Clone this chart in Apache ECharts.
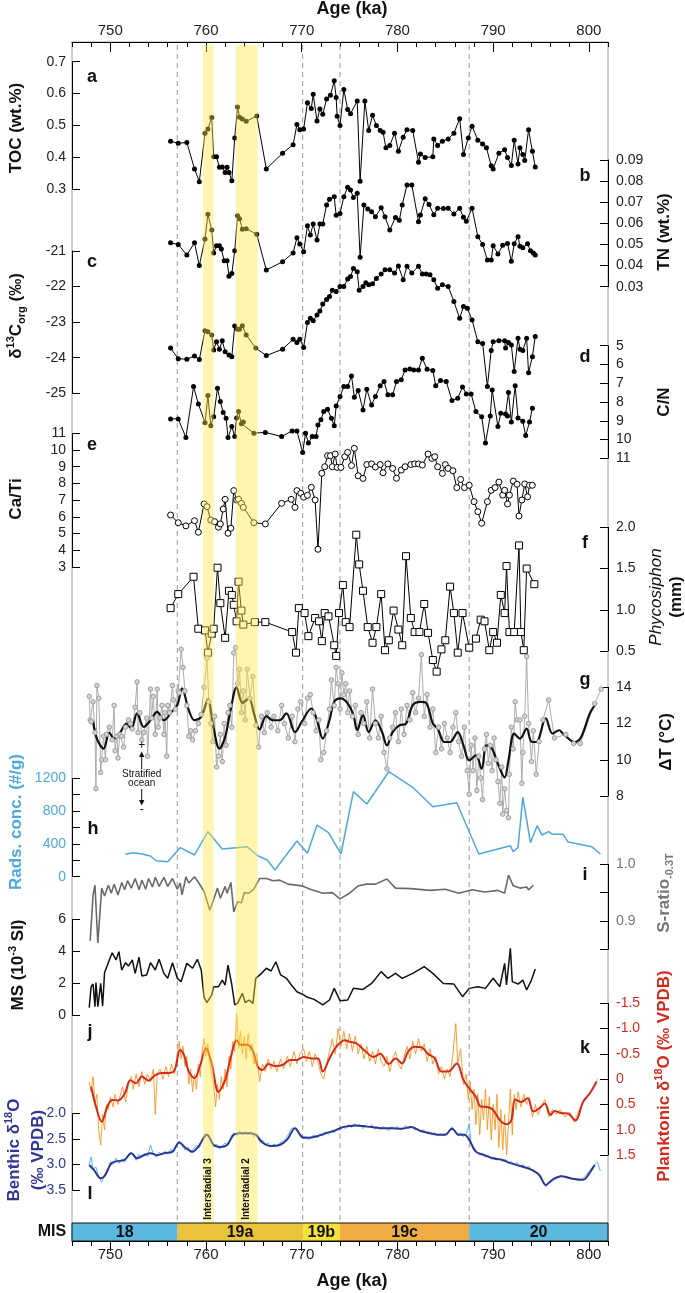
<!DOCTYPE html>
<html><head><meta charset="utf-8">
<script src="https://cdn.jsdelivr.net/npm/echarts@6/dist/echarts.min.js"></script>
<style>html,body{margin:0;padding:0;background:#fff}#c{width:685px;height:1293px}</style>
</head><body><div id="c"></div><script>
// ---------------- DATA ----------------
const ageMajorTicks = [750,760,770,780,790,800];
const ageMinorTicks = [746,748,750,752,754,756,758,760,762,764,766,768,770,772,774,776,778,780,782,784,786,788,790,792,794,796,798,800,802];
const misStages = ['18','19a','19b','19c','20'];
const misBounds = [746,757.0,770.1,774.0,787.5,802];
const dashedAges = [757.0,770.1,774.0,787.5];
const bandRanges = [[759.7,760.8],[763.1,765.4]];
const bandLabels = ['Interstadial 3','Interstadial 2'];

const tocData = [[756.3,0.451],[757.1,0.444],[758.0,0.447],[758.8,0.364],[759.3,0.324],[759.9,0.476],[760.2,0.489],[760.6,0.525],[760.8,0.402],[761.1,0.402],[761.4,0.369],[761.7,0.37],[762.0,0.353],[762.2,0.369],[762.4,0.353],[762.7,0.327],[763.0,0.461],[763.3,0.558],[763.5,0.526],[763.8,0.52],[764.2,0.513],[765.3,0.53],[766.3,0.364],[768.0,0.413],[769.1,0.44],[769.5,0.503],[769.8,0.487],[770.2,0.489],[770.6,0.571],[771.0,0.553],[771.2,0.598],[771.6,0.514],[771.9,0.552],[772.2,0.535],[772.6,0.583],[773.0,0.595],[773.4,0.64],[773.6,0.588],[773.7,0.529],[774.0,0.5],[774.4,0.613],[774.8,0.55],[775.1,0.537],[775.8,0.577],[776.1,0.325],[776.6,0.577],[777.0,0.484],[777.4,0.532],[777.8,0.5],[778.2,0.484],[778.5,0.479],[778.8,0.43],[779.2,0.437],[779.7,0.476],[780.1,0.419],[780.6,0.463],[781.0,0.487],[781.6,0.484],[782.2,0.385],[782.4,0.411],[782.9,0.4],[783.7,0.402],[783.8,0.458],[784.2,0.437],[784.7,0.451],[785.3,0.458],[785.9,0.476],[786.5,0.521],[786.9,0.409],[787.4,0.461],[787.8,0.498],[788.4,0.454],[788.9,0.442],[789.3,0.43],[789.8,0.374],[790.0,0.364],[790.6,0.413],[791.2,0.424],[791.5,0.4],[791.9,0.375],[792.2,0.454],[792.6,0.379],[792.8,0.43],[793.1,0.409],[793.3,0.39],[793.7,0.487],[794.1,0.419],[794.4,0.37]];

const tnData = [[756.3,0.0508],[757.1,0.050],[758.0,0.045],[758.8,0.0508],[759.3,0.040],[759.9,0.0526],[760.2,0.0643],[760.6,0.0568],[760.8,0.046],[761.1,0.0494],[761.4,0.0494],[761.6,0.0478],[761.9,0.0423],[762.2,0.0423],[762.4,0.035],[762.7,0.0363],[763.0,0.047],[763.3,0.0636],[763.5,0.0622],[763.8,0.0572],[764.2,0.0575],[765.3,0.0548],[766.3,0.0379],[768.0,0.0418],[769.1,0.046],[769.5,0.0532],[769.8,0.0502],[770.2,0.0465],[770.6,0.0589],[770.9,0.0545],[771.2,0.0597],[771.6,0.0521],[771.9,0.0597],[772.2,0.0597],[772.6,0.0687],[772.9,0.0714],[773.4,0.0726],[773.6,0.0638],[774.0,0.0647],[774.4,0.0726],[774.8,0.0771],[775.1,0.0758],[775.4,0.0723],[775.8,0.0742],[776.1,0.0439],[776.5,0.0687],[776.9,0.0668],[777.3,0.0655],[777.7,0.0631],[778.3,0.0674],[778.7,0.0631],[779.2,0.0568],[779.8,0.0628],[780.2,0.0615],[780.5,0.0687],[781.0,0.0782],[781.5,0.0782],[782.2,0.0608],[782.4,0.0639],[782.9,0.0716],[783.3,0.0689],[783.8,0.0641],[784.2,0.0672],[784.8,0.067],[785.3,0.0672],[785.9,0.0644],[786.5,0.0672],[786.9,0.0629],[787.2,0.061],[787.8,0.0672],[788.4,0.0537],[788.9,0.050],[789.4,0.0426],[789.8,0.0426],[790.0,0.0494],[790.5,0.0455],[791.0,0.0496],[791.5,0.0505],[791.9,0.042],[792.2,0.0503],[792.6,0.0537],[792.8,0.0491],[793.1,0.0485],[793.6,0.0503],[793.9,0.047],[794.2,0.046],[794.4,0.045]];

const d13cData = [[756.3,-23.73],[757.1,-24.03],[758.0,-24.04],[758.8,-23.95],[759.3,-24.05],[759.9,-23.24],[760.2,-23.27],[760.6,-23.36],[760.8,-23.78],[761.1,-23.55],[761.4,-23.76],[761.7,-23.52],[762.0,-23.83],[762.4,-23.92],[762.7,-23.97],[763.0,-23.11],[763.3,-23.2],[763.5,-23.2],[763.8,-23.1],[764.2,-23.36],[765.2,-23.73],[766.3,-23.94],[768.0,-23.76],[769.1,-23.48],[769.5,-23.57],[769.8,-23.48],[770.2,-23.71],[770.6,-23.01],[770.9,-22.89],[771.2,-22.96],[771.6,-22.8],[771.9,-22.69],[772.2,-22.49],[772.6,-22.36],[772.9,-22.28],[773.2,-22.1],[773.6,-22.14],[774.0,-22.0],[774.4,-22.0],[774.8,-21.79],[775.1,-21.72],[775.4,-21.49],[775.8,-21.58],[776.0,-22.1],[776.4,-22.0],[776.7,-21.89],[777.0,-21.95],[777.4,-21.92],[777.8,-21.77],[778.3,-21.65],[778.7,-21.53],[779.2,-21.53],[779.7,-21.62],[780.1,-21.42],[780.6,-21.81],[781.0,-21.43],[781.5,-21.62],[782.2,-21.43],[782.6,-21.65],[783.0,-21.65],[783.4,-21.67],[783.8,-21.81],[784.2,-22.05],[784.7,-21.95],[785.3,-22.0],[785.9,-22.42],[786.5,-22.89],[786.9,-22.56],[787.3,-22.61],[787.8,-22.94],[788.4,-23.55],[788.9,-23.6],[789.4,-24.81],[789.8,-23.8],[790.0,-23.55],[790.6,-23.52],[791.2,-23.52],[791.3,-23.73],[791.6,-23.57],[791.9,-23.64],[792.2,-24.39],[792.6,-23.45],[792.8,-23.76],[793.1,-23.8],[793.5,-23.45],[793.7,-24.42],[794.1,-23.97],[794.4,-23.4]];

const cnData = [[756.3,8.9],[757.1,8.9],[757.9,9.89],[758.7,7.18],[759.2,8.1],[759.9,9.1],[760.2,7.66],[760.5,9.26],[760.8,8.78],[761.2,7.27],[761.5,7.98],[761.8,8.56],[762.1,8.86],[762.3,9.89],[762.7,9.31],[763.0,9.84],[763.2,8.85],[763.4,8.51],[763.7,9.16],[763.9,9.07],[765.0,9.66],[766.2,9.62],[767.9,9.84],[769.0,9.54],[769.5,9.54],[770.1,10.69],[770.4,9.66],[770.7,10.19],[771.1,9.84],[771.5,9.84],[771.7,9.22],[772.0,8.95],[772.3,8.51],[772.7,8.39],[773.1,8.86],[773.4,9.27],[773.6,8.21],[774.0,7.71],[774.4,7.18],[774.8,7.18],[775.2,6.61],[775.5,7.75],[775.9,7.39],[776.4,8.42],[776.8,7.32],[777.3,8.16],[777.7,7.71],[778.2,7.14],[778.6,6.91],[779.0,7.62],[779.5,7.62],[779.9,6.91],[780.4,6.82],[780.8,6.29],[781.3,6.24],[781.7,6.29],[782.2,6.29],[782.6,5.67],[783.1,6.26],[783.7,6.32],[784.0,7.14],[784.5,6.86],[785.1,6.91],[785.7,7.92],[786.3,7.8],[786.8,7.2],[787.2,7.57],[787.7,7.57],[788.2,8.51],[788.8,8.78],[789.2,10.19],[789.7,8.74],[789.9,7.36],[790.5,9.31],[790.8,8.6],[791.3,8.64],[791.5,8.74],[791.6,7.5],[791.9,9.07],[792.3,7.14],[792.6,8.85],[793.1,9.03],[793.4,9.79],[793.8,9.07],[794.1,8.33]];

const catiData = [[756.3,6.11],[757.1,5.65],[757.9,5.46],[758.8,5.77],[759.2,5.08],[759.8,6.77],[760.1,6.61],[760.5,5.81],[760.9,5.71],[761.3,5.38],[761.5,5.58],[761.8,6.47],[762.0,7.05],[762.3,5.02],[762.6,5.32],[762.9,7.57],[763.2,7.01],[763.4,7.05],[763.7,6.81],[763.9,6.57],[765.0,5.65],[766.2,5.58],[767.9,6.81],[768.9,7.05],[769.3,6.57],[769.5,7.57],[769.9,7.41],[770.2,7.18],[770.6,7.29],[771.0,7.77],[771.4,7.01],[771.7,4.06],[772.1,8.61],[772.4,9.0],[772.7,9.66],[773.0,9.66],[773.2,9.0],[773.5,9.76],[773.7,8.96],[774.1,8.96],[774.5,9.6],[774.8,9.86],[775.2,9.07],[775.5,10.1],[775.9,8.46],[776.4,8.3],[776.8,9.13],[777.3,9.17],[777.7,8.98],[778.2,9.13],[778.5,8.64],[779.0,9.17],[779.5,8.9],[779.9,8.31],[780.4,8.8],[780.8,9.0],[781.4,9.13],[781.8,9.17],[782.2,9.17],[782.6,9.1],[783.2,9.76],[783.6,9.5],[783.9,9.6],[784.2,9.0],[784.7,8.6],[785.0,9.13],[785.3,8.9],[785.8,8.76],[786.2,7.75],[786.6,8.24],[787.0,7.75],[787.5,7.89],[788.0,6.91],[788.4,6.31],[788.8,5.62],[789.4,6.91],[789.8,7.59],[790.2,7.75],[790.6,8.08],[791.0,7.3],[791.2,7.59],[791.5,6.77],[791.7,7.3],[792.1,8.14],[792.5,7.95],[792.7,6.05],[793.0,7.01],[793.3,7.97],[793.6,7.2],[793.8,7.89],[794.1,7.89]];

const phycoData = [[756.3,1.02],[757.1,1.19],[758.7,1.40],[759.2,0.77],[759.9,0.75],[760.2,0.48],[760.6,0.71],[760.8,0.77],[761.2,1.51],[761.5,1.08],[762.0,0.66],[762.4,1.23],[762.7,1.18],[762.9,1.06],[763.2,0.86],[763.4,1.34],[763.7,0.99],[763.9,0.82],[765.1,0.85],[766.2,0.85],[769.0,0.73],[769.4,0.48],[769.7,1.02],[770.3,0.96],[770.7,0.68],[771.4,0.9],[771.8,0.86],[772.1,0.62],[772.4,0.96],[772.8,0.92],[773.4,0.57],[773.6,0.44],[773.9,0.96],[774.3,1.30],[774.6,0.85],[775.0,0.79],[775.7,1.91],[776.0,1.55],[776.4,1.23],[776.9,0.79],[777.4,0.6],[777.8,0.79],[778.3,1.19],[778.7,0.51],[779.1,0.63],[779.6,0.99],[780.1,0.76],[780.5,0.57],[780.9,1.65],[781.4,0.9],[781.8,0.73],[782.3,0.73],[782.8,1.07],[783.2,0.72],[783.7,0.39],[784.1,0.25],[784.6,0.52],[785.0,0.63],[785.5,1.28],[785.9,0.96],[786.3,0.48],[786.8,0.96],[787.5,0.54],[788.2,0.65],[788.7,0.88],[789.1,0.86],[789.6,0.51],[790.0,0.73],[790.4,0.6],[790.8,1.18],[791.2,0.96],[791.4,1.53],[791.7,0.73],[792.2,0.73],[792.7,1.78],[792.9,0.73],[793.2,0.51],[793.5,1.50],[794.3,1.31]];

const dtRawData = [[747.8,13.5],[747.9,12.2],[748.0,12.1],[748.2,13.2],[748.4,11.5],[748.5,8.4],[748.6,14.1],[748.8,13.4],[749.0,9.3],[749.1,10.0],[749.3,11.3],[749.5,10.0],[749.6,11.4],[749.9,11.8],[750.2,11.1],[750.4,13.0],[750.5,10.5],[750.7,11.3],[750.8,10.1],[751.0,11.4],[751.2,11.3],[751.4,10.7],[751.6,11.8],[751.9,12.2],[752.1,12.0],[752.3,11.7],[752.6,12.9],[752.8,14.3],[752.9,11.5],[753.1,12.6],[753.3,11.1],[753.5,11.5],[753.8,12.3],[753.9,10.2],[754.2,13.9],[754.3,12.3],[754.5,13.5],[754.7,11.4],[754.9,13.9],[755.0,11.8],[755.2,12.3],[755.4,13.0],[755.6,11.4],[755.7,12.6],[755.9,10.2],[756.0,13.0],[756.2,12.6],[756.5,14.1],[756.6,13.3],[756.8,12.8],[757.1,13.8],[757.2,13.7],[757.4,16.1],[757.6,15.1],[757.8,13.8],[758.0,13.0],[758.2,11.3],[758.4,11.6],[758.6,11.1],[758.9,11.6],[759.2,12.0],[759.5,12.5],[759.8,14.0],[760.1,15.6],[760.3,13.2],[760.5,12.0],[760.7,11.0],[760.9,12.4],[761.1,9.6],[761.3,10.2],[761.5,11.4],[761.7,9.9],[761.9,12.0],[762.1,10.8],[762.3,12.6],[762.5,13.0],[762.7,11.8],[762.9,15.9],[763.1,16.2],[763.3,14.2],[763.5,15.0],[763.7,12.6],[763.9,13.8],[764.1,12.2],[764.3,15.0],[764.6,13.4],[764.9,14.6],[765.2,11.9],[765.5,10.7],[765.8,12.4],[766.1,11.5],[766.4,12.6],[766.8,11.8],[767.1,12.4],[767.5,11.6],[767.9,13.0],[768.2,12.0],[768.6,11.2],[769.0,12.4],[769.3,11.0],[769.6,12.8],[769.9,13.2],[770.3,12.0],[770.6,13.4],[770.9,13.6],[771.2,12.6],[771.5,11.6],[771.8,12.2],[772.0,10.0],[772.3,10.4],[772.6,11.6],[772.9,12.8],[773.1,14.4],[773.4,13.0],[773.6,15.1],[773.8,14.2],[774.0,12.8],[774.2,14.8],[774.4,13.6],[774.6,14.2],[774.8,12.6],[775.0,13.8],[775.3,12.4],[775.6,13.0],[775.9,11.4],[776.2,12.6],[776.5,12.0],[776.8,13.2],[777.1,11.2],[777.4,13.9],[777.7,12.0],[778.0,11.2],[778.3,12.4],[778.6,10.4],[778.9,9.5],[779.2,11.2],[779.5,11.8],[779.8,12.6],[780.1,11.0],[780.4,12.8],[780.7,11.4],[781.0,13.0],[781.3,12.2],[781.6,13.7],[781.9,12.6],[782.2,13.4],[782.5,15.8],[782.8,12.4],[783.1,13.6],[783.4,11.8],[783.7,12.8],[784.0,10.4],[784.3,11.8],[784.6,10.6],[784.9,12.0],[785.2,11.2],[785.5,10.4],[785.8,11.8],[786.1,12.6],[786.4,11.0],[786.7,10.2],[787.0,11.8],[787.3,9.4],[787.5,8.1],[787.7,10.8],[787.9,9.4],[788.1,11.2],[788.3,8.3],[788.5,10.2],[788.7,9.0],[788.9,7.8],[789.1,10.6],[789.3,11.4],[789.5,9.8],[789.7,10.8],[789.9,9.4],[790.1,11.2],[790.3,10.0],[790.5,8.8],[790.7,7.6],[790.9,9.6],[791.0,7.0],[791.2,8.4],[791.4,7.2],[791.6,6.8],[791.7,9.2],[791.9,11.8],[792.1,10.6],[792.3,13.2],[792.5,12.2],[792.8,12.2],[793.0,8.7],[793.1,10.4],[793.3,12.4],[793.5,15.7],[793.7,12.0],[794.0,9.9],[794.2,11.6],[794.5,9.2],[794.8,11.0],[795.2,12.2],[795.8,13.3],[796.4,11.2],[797.6,11.4],[798.4,10.9],[799.1,10.9],[800.6,13.1],[801.3,13.9]];

const dtSmoothData = [[748.2,12.14],[748.6,11.17],[749.3,10.61],[749.9,11.48],[750.4,11.17],[751.0,11.48],[751.7,12.0],[752.2,11.72],[752.8,12.56],[753.5,11.81],[754.2,12.18],[754.9,12.64],[755.6,12.18],[756.4,12.64],[757.0,13.02],[757.5,13.94],[758.2,12.74],[758.8,12.18],[759.5,12.37],[760.2,13.33],[760.8,11.72],[761.4,10.61],[762.0,11.26],[762.6,12.83],[763.2,14.0],[763.8,13.14],[764.5,13.39],[765.0,12.56],[765.6,11.67],[766.3,12.41],[767.0,12.18],[767.7,12.18],[768.4,12.56],[769.3,11.53],[770.0,12.09],[771.0,12.83],[771.6,12.18],[772.2,11.17],[772.9,12.18],[773.4,13.2],[774.1,13.39],[774.8,13.11],[775.4,12.46],[775.8,11.63],[776.4,12.46],[777.0,11.53],[777.7,12.18],[778.4,11.53],[778.9,10.79],[779.5,11.53],[780.2,11.9],[780.9,12.0],[781.6,13.02],[782.4,13.2],[783.0,13.14],[783.7,12.0],[784.2,11.72],[784.9,10.98],[785.5,10.98],[786.3,11.53],[786.9,10.79],[787.5,9.96],[788.2,10.24],[788.8,9.5],[789.3,10.79],[789.8,10.7],[790.5,9.78],[791.2,9.03],[791.6,9.96],[792.2,11.44],[792.8,11.17],[793.5,11.72],[794.0,11.0],[794.5,10.98],[795.5,12.28],[796.2,11.44],[796.9,11.63],[797.3,11.44],[798.5,10.98],[799.2,11.26],[800.1,12.56],[800.8,13.14]];

const radsData = [[751.6,277],[752.4,293],[753.3,277],[754.2,252],[754.8,195],[756.0,183],[757.3,354],[758.8,265],[760.2,549],[761.7,338],[764.3,366],[765.4,256],[766.4,204],[767.2,82],[769.5,435],[770.6,285],[771.6,630],[772.8,537],[774.1,277],[775.4,1037],[776.8,887],[779.1,1280],[781.6,1090],[783.7,854],[786.2,902],[788.5,277],[791.8,378],[792.1,305],[792.6,358],[793.1,968],[793.9,415],[794.6,622],[795.1,508],[795.8,549],[796.2,517],[797.3,517],[797.8,427],[798.5,407],[800.3,366],[801.2,277]];

const sratioData = [[747.9,0.865],[748.2,0.946],[748.4,0.963],[748.7,0.861],[749.1,0.958],[749.4,0.944],[749.8,0.963],[750.1,0.949],[750.4,0.965],[750.8,0.946],[751.2,0.968],[751.5,0.955],[751.8,0.971],[752.2,0.958],[752.6,0.975],[753.0,0.955],[753.3,0.972],[753.7,0.956],[754.0,0.975],[754.4,0.96],[754.7,0.977],[755.1,0.961],[755.6,0.977],[756.0,0.961],[756.5,0.975],[757.0,0.956],[757.3,0.967],[757.5,0.946],[757.9,0.978],[758.2,0.967],[758.8,0.978],[759.4,0.963],[759.8,0.952],[760.4,0.919],[760.8,0.938],[761.2,0.958],[761.5,0.94],[762.0,0.961],[762.2,0.949],[762.6,0.968],[762.9,0.916],[763.3,0.934],[763.7,0.932],[764.0,0.95],[764.5,0.949],[765.0,0.956],[765.6,0.975],[766.3,0.975],[767.0,0.971],[767.7,0.972],[768.6,0.965],[770.0,0.962],[770.9,0.956],[772.2,0.949],[773.2,0.95],[774.0,0.939],[775.0,0.949],[775.9,0.962],[776.8,0.965],[777.7,0.965],[778.9,0.974],[779.8,0.958],[781.4,0.957],[783.4,0.954],[785.0,0.956],[786.4,0.949],[787.8,0.955],[789.1,0.951],[790.5,0.954],[791.2,0.949],[791.6,0.981],[792.1,0.962],[792.8,0.958],[793.5,0.96],[793.7,0.955],[794.2,0.963]];

const msData = [[747.8,0.46],[748.0,1.77],[748.2,1.94],[748.4,0.52],[748.5,2.03],[748.7,0.52],[749.0,1.98],[749.2,0.56],[749.4,2.65],[749.9,3.45],[750.2,3.9],[750.6,3.45],[750.9,3.97],[751.2,2.82],[751.6,3.28],[751.9,3.07],[752.3,3.45],[752.6,2.61],[753.0,3.62],[753.3,2.45],[753.8,2.51],[754.2,3.28],[754.7,2.82],[755.1,3.49],[755.6,2.61],[756.0,2.3],[756.5,3.28],[757.0,2.3],[757.4,2.09],[758.0,3.24],[758.6,2.93],[759.1,3.49],[759.5,2.82],[759.8,1.11],[760.1,0.77],[760.6,1.26],[760.8,1.77],[761.3,1.77],[761.7,2.19],[762.0,1.88],[762.3,3.13],[762.7,1.88],[763.0,0.63],[763.3,0.73],[763.8,1.36],[764.1,0.77],[764.5,0.94],[764.9,0.73],[765.2,2.3],[765.8,2.61],[766.3,2.93],[766.8,2.76],[767.3,3.34],[767.8,2.51],[768.4,2.3],[769.0,1.82],[769.5,1.46],[770.2,1.26],[770.6,1.11],[771.3,0.98],[772.2,0.63],[772.9,0.94],[773.4,1.67],[774.0,0.9],[774.8,0.94],[775.4,1.67],[776.4,1.6],[777.3,1.98],[778.3,2.72],[779.0,2.3],[779.8,2.61],[780.5,2.3],[781.6,2.61],[782.8,3.03],[783.7,2.61],[784.8,1.98],[785.9,1.94],[786.8,1.15],[787.5,1.67],[788.4,1.77],[789.2,1.67],[790.0,2.3],[790.7,1.77],[791.2,3.24],[791.4,1.88],[791.8,4.18],[792.0,2.09],[792.6,1.94],[793.1,2.19],[793.5,1.57],[794.0,2.19],[794.4,2.88]];

const plankRawData = [[747.8,0.05],[748.0,0.25],[748.2,-0.05],[748.4,0.5],[748.6,0.3],[748.8,1.05],[749.0,1.3],[749.2,0.7],[749.4,1.0],[749.6,0.5],[749.8,0.6],[750.0,0.35],[750.3,0.55],[750.5,0.3],[750.8,0.5],[751.0,0.35],[751.3,0.15],[751.6,0.45],[751.9,0.1],[752.2,-0.05],[752.4,0.2],[752.7,-0.1],[753.0,0.15],[753.3,-0.15],[753.6,0.1],[753.9,-0.1],[754.2,0.05],[754.5,-0.2],[754.7,0.7],[754.9,-0.1],[755.2,-0.2],[755.5,0.0],[755.8,-0.25],[756.1,-0.05],[756.4,-0.3],[756.7,-0.1],[757.0,-0.5],[757.2,-0.75],[757.4,-0.4],[757.6,-0.65],[757.8,-0.25],[758.0,-0.45],[758.2,0.1],[758.4,-0.2],[758.6,0.25],[758.8,-0.1],[759.0,0.2],[759.2,-0.3],[759.4,-0.05],[759.6,-0.55],[759.8,-0.8],[760.0,-0.45],[760.2,-0.7],[760.4,-0.3],[760.6,-0.1],[760.8,0.1],[761.0,0.55],[761.2,0.1],[761.4,0.4],[761.6,-0.05],[761.8,0.2],[762.0,-0.2],[762.2,0.15],[762.4,-0.45],[762.6,-0.2],[762.8,-0.75],[763.0,-0.55],[763.2,-1.3],[763.4,-0.6],[763.6,-0.95],[763.8,-0.5],[764.0,-0.85],[764.2,-0.4],[764.4,-0.9],[764.6,-0.55],[764.8,-0.7],[765.0,-0.3],[765.3,-0.5],[765.6,0.05],[765.9,-0.3],[766.2,-0.15],[766.5,-0.4],[766.8,-0.2],[767.1,-0.35],[767.4,-0.15],[767.8,-0.4],[768.1,-0.2],[768.5,-0.45],[768.8,-0.25],[769.2,-0.55],[769.5,-0.3],[769.8,-0.5],[770.2,-0.6],[770.5,-0.35],[770.8,-0.55],[771.1,-0.25],[771.4,-0.5],[771.7,-0.35],[772.0,-0.1],[772.3,0.0],[772.6,-0.3],[772.9,-0.55],[773.2,-0.8],[773.5,-0.5],[773.8,-1.0],[774.1,-0.65],[774.4,-0.95],[774.7,-0.6],[775.0,-0.9],[775.3,-0.55],[775.6,-0.85],[775.9,-0.5],[776.2,-0.7],[776.5,-0.4],[776.8,-0.65],[777.1,-0.35],[777.4,-0.55],[777.7,-0.3],[778.0,-0.6],[778.3,-0.35],[778.6,-0.25],[778.9,-0.45],[779.2,-0.15],[779.5,-0.4],[779.8,-0.55],[780.1,-0.3],[780.4,-0.2],[780.7,-0.45],[781.0,-0.65],[781.3,-0.4],[781.6,-0.75],[781.9,-0.5],[782.2,-0.8],[782.5,-0.55],[782.8,-0.7],[783.1,-0.35],[783.4,-0.6],[783.7,-0.3],[784.0,-0.45],[784.3,-0.1],[784.6,-0.25],[784.9,0.0],[785.2,-0.2],[785.5,-0.05],[785.8,-0.5],[786.1,-1.1],[786.3,-0.3],[786.6,-0.6],[786.9,0.1],[787.2,-0.1],[787.4,0.4],[787.6,0.05],[787.8,0.6],[788.0,0.2],[788.2,0.9],[788.4,0.3],[788.6,1.1],[788.8,0.4],[789.0,0.8],[789.2,0.2],[789.4,1.0],[789.6,0.35],[789.8,1.2],[790.0,0.5],[790.2,1.0],[790.4,0.3],[790.6,1.35],[790.8,0.6],[791.0,1.4],[791.2,0.7],[791.4,1.5],[791.6,0.9],[791.8,0.2],[792.0,1.1],[792.2,0.3],[792.4,0.6],[792.6,0.25],[792.9,0.55],[793.2,0.3],[793.5,0.5],[793.8,0.35],[794.1,0.75],[794.4,0.5],[794.7,0.7],[795.0,0.55],[795.4,0.4],[795.8,0.75],[796.2,0.6],[796.6,0.7],[797.0,0.6],[797.5,0.75],[798.0,0.65],[798.5,0.85],[799.0,0.6],[799.5,0.4],[800.0,0.3],[800.5,0.15],[800.9,0.0]];

const plankSmoothData = [[748.0,0.15],[748.5,0.54],[749.1,0.84],[749.7,0.54],[750.2,0.41],[750.8,0.42],[751.5,0.29],[752.1,0.02],[752.7,0.08],[753.3,-0.05],[754.0,0.03],[754.7,-0.08],[755.4,-0.12],[756.0,-0.12],[756.7,-0.17],[757.3,-0.58],[757.7,-0.48],[758.2,-0.15],[758.8,-0.02],[759.4,-0.28],[760.0,-0.61],[760.6,-0.31],[761.3,0.25],[762.0,0.02],[762.6,-0.44],[763.2,-0.77],[763.6,-0.68],[764.3,-0.68],[764.9,-0.56],[765.4,-0.25],[765.9,-0.18],[766.5,-0.3],[767.2,-0.26],[768.0,-0.28],[768.8,-0.38],[769.5,-0.38],[770.2,-0.44],[771.0,-0.41],[771.7,-0.41],[772.2,-0.15],[772.9,-0.41],[773.6,-0.64],[774.5,-0.77],[775.0,-0.74],[775.7,-0.71],[776.6,-0.56],[777.5,-0.44],[778.2,-0.5],[779.1,-0.3],[779.8,-0.41],[780.5,-0.31],[781.1,-0.54],[781.8,-0.64],[782.5,-0.63],[783.2,-0.5],[783.9,-0.41],[784.6,-0.15],[785.3,-0.15],[786.2,-0.31],[786.9,0.02],[787.5,0.18],[788.2,0.35],[788.7,0.54],[789.4,0.55],[790.0,0.61],[790.7,0.81],[791.4,0.89],[791.9,0.81],[792.3,0.4],[792.9,0.45],[793.6,0.38],[794.2,0.64],[794.8,0.58],[795.4,0.48],[796.0,0.71],[796.4,0.63],[797.1,0.67],[797.8,0.68],[798.6,0.82],[799.4,0.45],[800.1,0.28],[800.8,0.05]];

const benthRawData = [[747.8,3.0],[748.0,2.85],[748.2,3.1],[748.5,3.05],[748.8,3.25],[749.1,3.35],[749.4,3.2],[749.7,3.15],[750.0,2.95],[750.3,3.0],[750.6,2.88],[750.9,2.98],[751.2,2.9],[751.5,2.95],[751.8,2.82],[752.1,2.76],[752.4,2.82],[752.7,2.92],[753.0,2.8],[753.3,2.86],[753.6,2.78],[753.9,2.85],[754.2,2.62],[754.5,2.8],[754.8,2.86],[755.1,2.76],[755.4,2.82],[755.7,2.74],[756.0,2.8],[756.3,2.7],[756.6,2.76],[756.9,2.62],[757.2,2.54],[757.5,2.62],[757.8,2.72],[758.1,2.66],[758.4,2.78],[758.7,2.7],[759.0,2.62],[759.3,2.68],[759.6,2.52],[759.9,2.4],[760.2,2.45],[760.5,2.5],[760.8,2.66],[761.1,2.6],[761.4,2.7],[761.7,2.64],[762.0,2.58],[762.3,2.62],[762.6,2.46],[762.9,2.38],[763.2,2.44],[763.5,2.34],[763.8,2.42],[764.1,2.36],[764.4,2.42],[764.7,2.36],[765.0,2.46],[765.3,2.4],[765.6,2.56],[765.9,2.52],[766.2,2.62],[766.5,2.58],[766.8,2.66],[767.1,2.6],[767.4,2.64],[767.7,2.58],[768.0,2.56],[768.3,2.5],[768.6,2.42],[768.9,2.3],[769.2,2.28],[769.5,2.34],[769.8,2.42],[770.1,2.5],[770.4,2.44],[770.7,2.52],[771.0,2.46],[771.3,2.42],[771.6,2.48],[771.9,2.4],[772.2,2.44],[772.5,2.36],[772.8,2.42],[773.1,2.34],[773.4,2.38],[773.7,2.3],[774.0,2.34],[774.3,2.26],[774.6,2.3],[774.9,2.22],[775.2,2.28],[775.5,2.2],[775.8,2.26],[776.1,2.22],[776.4,2.3],[776.7,2.24],[777.0,2.28],[777.3,2.22],[777.6,2.3],[777.9,2.26],[778.2,2.32],[778.5,2.26],[778.8,2.3],[779.1,2.34],[779.4,2.26],[779.7,2.3],[780.0,2.26],[780.3,2.32],[780.6,2.28],[780.9,2.24],[781.2,2.3],[781.5,2.26],[781.8,2.32],[782.1,2.3],[782.4,2.36],[782.7,2.32],[783.0,2.38],[783.3,2.36],[783.6,2.42],[783.9,2.38],[784.2,2.44],[784.5,2.4],[784.8,2.44],[785.1,2.4],[785.4,2.34],[785.7,2.26],[786.0,2.36],[786.3,2.44],[786.6,2.38],[786.9,2.46],[787.2,2.4],[787.5,2.2],[787.7,2.6],[788.0,2.72],[788.3,2.76],[788.6,2.82],[788.9,2.78],[789.2,2.86],[789.5,2.82],[789.8,2.9],[790.1,2.86],[790.4,2.92],[790.7,2.88],[791.0,2.94],[791.3,2.9],[791.6,2.98],[791.9,2.94],[792.2,3.0],[792.5,2.96],[792.8,3.04],[793.1,3.0],[793.4,3.08],[793.7,3.04],[794.0,3.1],[794.3,3.12],[794.6,3.18],[794.9,3.26],[795.2,3.32],[795.5,3.44],[795.8,3.36],[796.1,3.3],[796.6,3.26],[797.1,3.22],[797.6,3.26],[798.1,3.28],[798.6,3.3],[799.1,3.32],[799.6,3.24],[800.1,3.12],[800.5,3.02],[800.9,2.95],[801.2,3.13]];

const benthSmoothData = [[747.8,3.01],[748.3,3.11],[749.0,3.27],[749.4,3.23],[750.1,2.98],[750.6,2.94],[751.5,2.91],[752.2,2.78],[752.8,2.88],[753.5,2.82],[754.2,2.78],[754.9,2.82],[755.6,2.78],[756.5,2.75],[757.2,2.57],[757.9,2.68],[758.6,2.75],[759.2,2.65],[760.1,2.42],[760.8,2.62],[761.5,2.66],[762.2,2.62],[762.9,2.42],[763.6,2.39],[764.5,2.39],[765.2,2.42],[765.9,2.57],[766.8,2.64],[767.7,2.62],[768.5,2.51],[769.3,2.29],[770.0,2.46],[770.6,2.48],[771.6,2.45],[772.5,2.39],[773.4,2.34],[774.3,2.27],[775.0,2.25],[775.7,2.24],[776.4,2.25],[777.3,2.27],[778.4,2.29],[779.3,2.29],[780.5,2.3],[781.4,2.27],[782.5,2.35],[783.4,2.39],[784.3,2.42],[785.0,2.42],[785.7,2.3],[786.4,2.42],[787.0,2.42],[787.5,2.52],[788.2,2.75],[789.1,2.82],[790.0,2.88],[790.9,2.91],[791.9,2.98],[792.8,3.03],[793.7,3.08],[794.8,3.2],[795.5,3.4],[796.2,3.3],[797.1,3.23],[798.3,3.28],[799.4,3.3],[800.2,3.13],[800.6,3.01]];

// ---------------- STYLE / LAYOUT ----------------
const FONT = '"Liberation Sans", Arial, Helvetica, sans-serif';
const C_RADS = '#4EA8DA', C_SR = '#6a6a6a', C_RED = '#D42A1E', C_ORANGE = '#F7941D', C_BLUE = '#2E3592', C_LBLUE = '#41B3EA';
const misColors = ['#5BB8DE','#E8C43C','#F3E23A','#F0AC45','#5BB8DE'];
const PL = 72, PW = 536; // plot left & width
const FRAME_TOP = 42, FRAME_BOTTOM = 1241, MIS_TOP = 1223;

const f1 = v => v.toFixed(1), f2 = v => v.toFixed(2), fi = v => String(Math.round(v));

function dots(d){return {type:'line',data:d,symbol:'circle',symbolSize:5,lineStyle:{color:'#000',width:1},itemStyle:{color:'#000'}};}
function openSym(d,sym,size){return {type:'line',data:d,symbol:sym,symbolSize:size,lineStyle:{color:'#000',width:1},itemStyle:{color:'#fff',borderColor:'#000',borderWidth:1}};}
function plain(d,color,width,smooth){return {type:'line',data:d,symbol:'none',smooth:smooth||false,lineStyle:{color,width}};}

const panels = [
  {top:61.7,bottom:189.3,min:0.3,max:0.7,interval:0.1,side:'left',fmt:f1,series:[dots(tocData)]},
  {top:160,bottom:286.7,min:0.03,max:0.09,interval:0.01,side:'right',fmt:f2,series:[dots(tnData)]},
  {top:251,bottom:393.3,min:-25,max:-21,interval:1,side:'left',fmt:fi,series:[dots(d13cData)]},
  {top:345.7,bottom:458.3,min:5,max:11,interval:1,side:'right',inverse:true,fmt:fi,series:[dots(cnData)]},
  {top:433.3,bottom:567,min:3,max:11,interval:1,side:'left',fmt:fi,series:[openSym(catiData,'circle',6)]},
  {top:527.3,bottom:651,min:0.5,max:2.0,interval:0.5,side:'right',fmt:f1,series:[openSym(phycoData,'rect',7)]},
  {top:687.3,bottom:796,min:8,max:14,interval:2,side:'right',fmt:fi,series:[
     {type:'line',data:dtRawData,symbol:'circle',symbolSize:4.5,lineStyle:{color:'#a3a3a3',width:0.9},itemStyle:{color:'#d4d4d4',borderColor:'#9c9c9c',borderWidth:1}},
     plain(dtSmoothData,'#111',2.2,0.35)]},
  {top:778.3,bottom:876.7,min:0,max:1200,interval:200,side:'left',labelColor:C_RADS,fmt:v=>(Math.round(v)%400===0?String(Math.round(v)):''),series:[plain(radsData,C_RADS,1.5)]},
  {top:864.3,bottom:949.3,min:0.85,max:1.0,interval:0.05,side:'right',labelColor:'#777',fmt:v=>(Math.abs(v-0.9)<1e-6||Math.abs(v-1)<1e-6?v.toFixed(1):''),series:[plain(sratioData,C_SR,1.6)]},
  {top:919.3,bottom:1015,min:0,max:6,interval:2,side:'left',fmt:fi,series:[plain(msData,'#111',1.5)]},
  {top:1003.3,bottom:1155,min:-1.5,max:1.5,interval:0.5,side:'right',inverse:true,labelColor:C_RED,fmt:v=>(Math.abs(v)<1e-9?'0':v.toFixed(1)),series:[plain(plankRawData,C_ORANGE,0.9),plain(plankSmoothData,C_RED,2,0.35)]},
  {top:1113.3,bottom:1190,min:2.0,max:3.5,interval:0.5,side:'left',inverse:true,labelColor:C_BLUE,fmt:f1,series:[plain(benthRawData,C_LBLUE,0.9),plain(benthSmoothData,C_BLUE,2,0.35)]}
];

const grids = [
  {left:PL,width:PW,top:FRAME_TOP,height:FRAME_BOTTOM-FRAME_TOP,show:true,borderColor:'#a0a0a0',borderWidth:1,backgroundColor:'rgba(0,0,0,0)'},
  {left:PL,width:PW,top:FRAME_TOP,height:FRAME_BOTTOM-FRAME_TOP},
  {left:PL,width:PW,top:MIS_TOP,height:FRAME_BOTTOM-MIS_TOP}
];
const xAxes = [
  {gridIndex:0,type:'value',position:'top',min:746,max:802,axisLine:{show:true,onZero:false,lineStyle:{color:'#000',width:1}},
   axisTick:{show:true,inside:true,length:10,customValues:ageMajorTicks,lineStyle:{color:'#000'}},
   axisLabel:{show:true,customValues:ageMajorTicks,margin:4,fontSize:15,color:'#222',fontFamily:FONT},splitLine:{show:false}},
  {gridIndex:0,type:'value',position:'bottom',min:746,max:802,axisLine:{show:true,onZero:false,lineStyle:{color:'#000',width:1}},
   axisTick:{show:true,inside:false,length:10,customValues:ageMajorTicks,lineStyle:{color:'#000'}},
   axisLabel:{show:true,customValues:ageMajorTicks,margin:6,fontSize:15,color:'#222',fontFamily:FONT},splitLine:{show:false}},
  {gridIndex:1,type:'value',position:'top',min:746,max:802,axisLine:{show:false,onZero:false},
   axisTick:{show:true,inside:true,length:5,customValues:ageMinorTicks,lineStyle:{color:'#000'}},axisLabel:{show:false},splitLine:{show:false}},
  {gridIndex:1,type:'value',position:'bottom',min:746,max:802,axisLine:{show:false,onZero:false},
   axisTick:{show:true,inside:false,length:5,customValues:ageMinorTicks,lineStyle:{color:'#000'}},axisLabel:{show:false},splitLine:{show:false}},
  {gridIndex:2,type:'value',min:746,max:802,show:false}
];
const yAxes = [
  {gridIndex:0,type:'value',min:0,max:1,show:false},
  {gridIndex:1,type:'value',min:0,max:1,show:false},
  {gridIndex:2,type:'value',min:0,max:1,show:false}
];
const series = [];

// dashed MIS boundary lines
series.push({type:'custom',xAxisIndex:0,yAxisIndex:0,z:1,silent:true,data:dashedAges.map(a=>[a]),
  renderItem:(params,api)=>{const x=api.coord([api.value(0),0])[0];const cs=params.coordSys;
    return {type:'line',shape:{x1:x,y1:cs.y+3,x2:x,y2:cs.y+cs.height},style:{stroke:'#9a9a9a',lineWidth:1,lineDash:[5,4]}};}});
// interstadial bands (translucent overlay)
series.push({type:'custom',xAxisIndex:0,yAxisIndex:0,z:10,silent:true,data:bandRanges,
  renderItem:(params,api)=>{const x0=api.coord([api.value(0),0])[0],x1=api.coord([api.value(1),0])[0];const cs=params.coordSys;
    const top=cs.y+3,bottom=MIS_TOP;
    return {type:'group',children:[
      {type:'rect',shape:{x:x0,y:top,width:x1-x0,height:bottom-top},style:{fill:'rgba(255,232,70,0.43)'}},
      {type:'text',x:(x0+x1)/2,y:bottom-34,rotation:Math.PI/2,style:{text:bandLabels[params.dataIndex],align:'center',verticalAlign:'middle',textAlign:'center',textVerticalAlign:'middle',font:'bold 10px '+FONT,fill:'#111'}}
    ]};}});
// MIS bar
series.push({type:'custom',xAxisIndex:4,yAxisIndex:2,z:12,silent:true,
  data:misStages.map((s,i)=>[misBounds[i],misBounds[i+1],i]),
  renderItem:(params,api)=>{const x0=api.coord([api.value(0),0])[0],x1=api.coord([api.value(1),0])[0];const cs=params.coordSys;const i=api.value(2);
    return {type:'group',children:[
      {type:'rect',shape:{x:x0,y:cs.y,width:x1-x0,height:cs.height},style:{fill:misColors[i]}},
      {type:'text',x:(x0+x1)/2,y:cs.y+cs.height/2+1,style:{text:misStages[i],align:'center',verticalAlign:'middle',textAlign:'center',textVerticalAlign:'middle',font:'bold 16px '+FONT,fill:'#111'}}
    ]};}});

panels.forEach((p,k)=>{
  grids.push({left:PL,width:PW,top:p.top,height:p.bottom-p.top});
  const gi = grids.length-1;
  xAxes.push({gridIndex:gi,type:'value',min:746,max:802,show:false});
  yAxes.push({gridIndex:gi,type:'value',min:p.min,max:p.max,interval:p.interval,inverse:!!p.inverse,position:p.side,
    axisLine:{show:true,onZero:false,lineStyle:{color:'#000',width:1}},
    axisTick:{show:true,inside:true,length:8,lineStyle:{color:'#000',width:1}},
    axisLabel:{show:true,margin:p.side==='left'?6:8,color:p.labelColor||'#222',fontSize:14,fontFamily:FONT,formatter:p.fmt,showMinLabel:true,showMaxLabel:true},
    splitLine:{show:false}});
  const xi = xAxes.length-1, yi = yAxes.length-1;
  p.series.forEach(s=>{series.push(Object.assign({xAxisIndex:xi,yAxisIndex:yi,z:3,clip:false,animation:false,silent:true},s));});
});

// ---------------- TEXT ----------------
function rt(txt,x,y,color,size,weight,style){
  return {type:'text',x,y,rotation:Math.PI/2,z:50,style:{text:txt,align:'center',verticalAlign:'middle',textAlign:'center',textVerticalAlign:'middle',
    font:(style||'normal')+' '+(weight||'bold')+' '+(size||17)+'px '+FONT,fill:color||'#111'}};
}
function richT(txt,x,y,color,rich){
  return {type:'text',x,y,rotation:Math.PI/2,z:50,style:{text:txt,rich,align:'center',verticalAlign:'middle',textAlign:'center',textVerticalAlign:'middle',font:'bold 17px '+FONT,fill:color}};
}
function richSet(color){
  return {b:{fontSize:17,fontWeight:'bold',fontFamily:FONT,fill:color,lineHeight:22,verticalAlign:'middle'},
          u:{fontSize:11,fontWeight:'bold',fontFamily:FONT,fill:color,verticalAlign:'top'},
          d:{fontSize:11,fontWeight:'bold',fontFamily:FONT,fill:color,verticalAlign:'bottom'}};
}
function lt(txt,x,y,size,color,weight,align){
  return {type:'text',x,y,z:50,style:{text:txt,align:align||'center',verticalAlign:'middle',textAlign:align||'center',textVerticalAlign:'middle',font:(weight||'bold')+' '+size+'px '+FONT,fill:color||'#111'}};
}
const panelLetters = [['a',92,77],['b',585,176],['c',92,262],['d',585,357],['e',92,445],['f',585,543],['g',585,680],['h',93,829],['i',585,875],['j',90,1032],['k',585,1048],['l',90,1194]];

const elements = [
  lt('Age (ka)',352,9,18),
  lt('Age (ka)',352,1281,18),
  lt('MIS',52,1232,16),
  rt('TOC (wt.%)',16,128),
  rt('TN (wt.%)',664,232),
  richT('{b|δ}{u|13}{b|C}{d|org}{b| (‰)}',16,316,'#111',richSet('#111')),
  rt('C/N',664,402),
  rt('Ca/Ti',16,499),
  rt('Phycosiphon',656,597,'#111',17,'normal','italic'),
  rt('(mm)',676,597),
  rt('ΔT (°C)',666,742),
  rt('Rads. conc. (#/g)',16,822,C_RADS),
  richT('{b|S-ratio}{d|-0.3T}',664,893,'#777',richSet('#777')),
  richT('{b|MS (10}{u|-3}{b| SI)}',18,965,'#111',richSet('#111')),
  richT('{b|Planktonic δ}{u|18}{b|O (‰ VPDB)}',664,1076,C_RED,richSet(C_RED)),
  richT('{b|Benthic δ}{u|18}{b|O}',14,1150,C_BLUE,richSet(C_BLUE)),
  rt('(‰ VPDB)',38,1150,C_BLUE),
  // MIS outline
  {type:'rect',z:60,shape:{x:PL,y:MIS_TOP,width:PW,height:FRAME_BOTTOM-MIS_TOP},style:{fill:'none',stroke:'#111',lineWidth:1}},
  // stratified ocean annotation
  lt('+',141.7,745.5,12,'#111','normal'),
  {type:'line',z:50,shape:{x1:141.7,y1:756,x2:141.7,y2:769},style:{stroke:'#111',lineWidth:1}},
  {type:'polygon',z:50,shape:{points:[[139,757],[141.7,751.5],[144.4,757]]},style:{fill:'#111'}},
  lt('Stratified',141.7,774.5,10,'#111','normal'),
  lt('ocean',141.7,783.5,10,'#111','normal'),
  {type:'line',z:50,shape:{x1:141.7,y1:789,x2:141.7,y2:801},style:{stroke:'#111',lineWidth:1}},
  {type:'polygon',z:50,shape:{points:[[139,800],[141.7,805.5],[144.4,800]]},style:{fill:'#111'}},
  lt('-',141.7,810,12,'#111','normal')
];
panelLetters.forEach(l=>elements.push(lt(l[0],l[1],l[2],18)));

const chart = echarts.init(document.getElementById('c'),null,{renderer:'canvas'});
chart.setOption({
  animation:false,
  backgroundColor:'#fff',
  grid:grids, xAxis:xAxes, yAxis:yAxes, series,
  graphic:{elements}
});
</script></body></html>
